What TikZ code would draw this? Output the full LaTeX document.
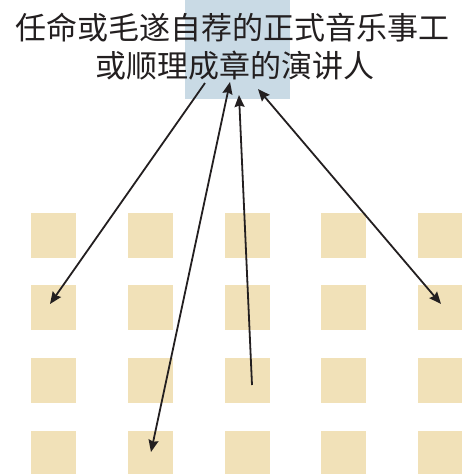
\documentclass[tikz,border=0pt]{standalone}
\usepackage{fontspec}
\newfontfamily\cjk{Noto Sans CJK SC}
\usetikzlibrary{arrows.meta}
\definecolor{hlblue}{HTML}{C9DAE5}
\definecolor{sqtan}{HTML}{F1E1B8}
\definecolor{ink}{HTML}{231F20}
\tikzset{
  sq/.style={fill=sqtan, draw=none, minimum size=45pt, inner sep=0pt, outer sep=0pt},
  ttl/.style={anchor=base, inner sep=0pt, text=ink, font=\cjk\fontsize{31}{37}\selectfont},
  conn/.style={draw=ink, line width=1.8pt},
  tip/.style={-{Stealth[length=12pt,width=10pt,inset=1.5pt]}},
  bitip/.style={{Stealth[length=12pt,width=10pt,inset=1.5pt]}-{Stealth[length=12pt,width=10pt,inset=1.5pt]}}
}
\begin{document}
\begin{tikzpicture}[x=1pt,y=-1pt]
\useasboundingbox (0,0) rectangle (462,474);
\fill[hlblue] (185,0) rectangle (290,99);
\foreach \c/\x in {1/53.5,2/150.5,3/247.5,4/343.5,5/440.5}{
  \foreach \r/\y in {1/235.5,2/307.5,3/380.5,4/453.5}{
    \node[sq] (s-\r-\c) at (\x,\y) {};
  }
}
\node[ttl] (t1) at (233,39) {任命或毛遂自荐的正式音乐事工};
\node[ttl] (t2) at (235,77) {或顺理成章的演讲人};
\coordinate (a1s) at (205,83);
\coordinate (a1e) at (50,304);
\coordinate (a2s) at (230,82);
\coordinate (a2e) at (151,452);
\coordinate (a3s) at (252,385);
\coordinate (a3e) at (239,95);
\coordinate (a4s) at (258,89);
\coordinate (a4e) at (441,304);
\draw[conn,tip] (a1s) -- (a1e);
\draw[conn,bitip] (a2s) -- (a2e);
\draw[conn,tip] (a3s) -- (a3e);
\draw[conn,bitip] (a4s) -- (a4e);
\end{tikzpicture}
\end{document}
